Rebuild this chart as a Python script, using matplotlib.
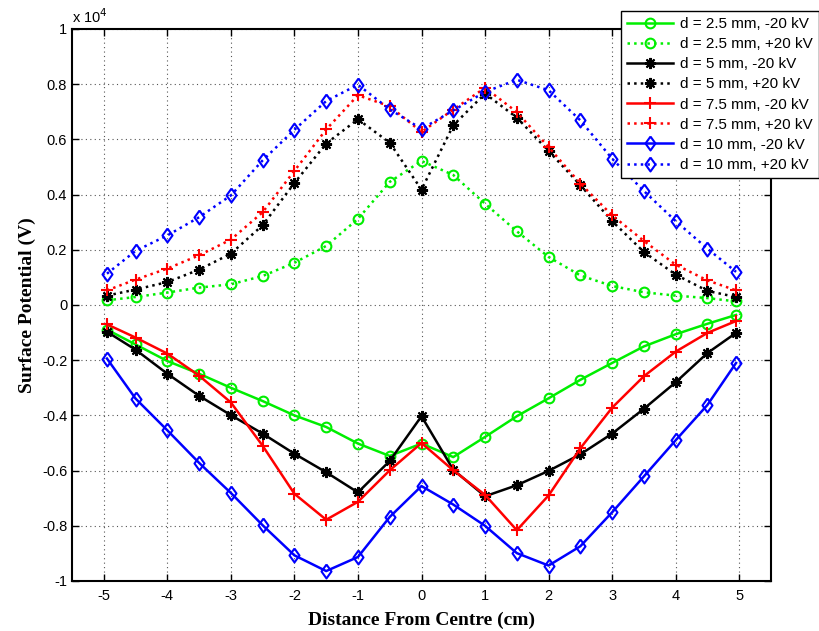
import matplotlib.pyplot as plt
import numpy as np
from matplotlib.ticker import FuncFormatter

# distance from centre (cm)
x = [-4.95, -4.5, -4, -3.5, -3, -2.5, -2, -1.5, -1, -0.5, 0,
     0.5, 1, 1.5, 2, 2.5, 3, 3.5, 4, 4.5, 4.95]

# surface potential, in units of 1e4 V
g_neg = [-0.089, -0.143, -0.203, -0.249, -0.300, -0.348, -0.400, -0.442, -0.502, -0.547, -0.502,
         -0.551, -0.478, -0.403, -0.338, -0.271, -0.210, -0.150, -0.106, -0.068, -0.036]
g_pos = [0.017, 0.029, 0.045, 0.063, 0.075, 0.105, 0.153, 0.214, 0.312, 0.446, 0.522,
         0.471, 0.367, 0.267, 0.174, 0.107, 0.069, 0.046, 0.034, 0.025, 0.013]
k_neg = [-0.097, -0.162, -0.249, -0.329, -0.399, -0.466, -0.539, -0.606, -0.679, -0.565, -0.403,
         -0.597, -0.693, -0.653, -0.601, -0.541, -0.466, -0.376, -0.280, -0.174, -0.101]
k_pos = [0.034, 0.056, 0.083, 0.128, 0.186, 0.289, 0.442, 0.585, 0.673, 0.588, 0.418,
         0.651, 0.766, 0.679, 0.558, 0.434, 0.304, 0.192, 0.110, 0.051, 0.029]
r_neg = [-0.070, -0.118, -0.176, -0.256, -0.353, -0.510, -0.684, -0.778, -0.713, -0.599, -0.500,
         -0.599, -0.688, -0.816, -0.690, -0.519, -0.372, -0.258, -0.169, -0.101, -0.058]
r_pos = [0.053, 0.092, 0.132, 0.180, 0.237, 0.336, 0.486, 0.636, 0.760, 0.720, 0.627,
         0.708, 0.787, 0.699, 0.572, 0.440, 0.325, 0.232, 0.146, 0.089, 0.053]
b_neg = [-0.194, -0.339, -0.454, -0.572, -0.681, -0.798, -0.907, -0.964, -0.913, -0.768, -0.656,
         -0.723, -0.800, -0.899, -0.944, -0.874, -0.751, -0.621, -0.490, -0.362, -0.210]
b_pos = [0.1135, 0.196, 0.252, 0.318, 0.397, 0.524, 0.635, 0.739, 0.798, 0.709, 0.638,
         0.705, 0.772, 0.816, 0.778, 0.669, 0.530, 0.413, 0.304, 0.204, 0.120]

labels = ['d = 2.5 mm, -20 kV', 'd = 2.5 mm, +20 kV',
          'd = 5 mm, -20 kV', 'd = 5 mm, +20 kV',
          'd = 7.5 mm, -20 kV', 'd = 7.5 mm, +20 kV',
          'd = 10 mm, -20 kV', 'd = 10 mm, +20 kV']

plt.rcParams['font.family'] = ['Liberation Sans', 'DejaVu Sans']
plt.rcParams['axes.unicode_minus'] = False

fig = plt.figure(figsize=(8.19, 6.31), dpi=100)
ax = fig.add_axes([72/819, 1-581/631, (771-72)/819, (581-29)/631])

# MATLAB-like diamond, a bit wider than matplotlib's thin diamond
diamond = [(0, 1), (0.72, 0), (0, -1), (-0.72, 0), (0, 1)]

scale = 1e4
series = [
    (g_neg, '#00ee00', '-', 'o', dict(markersize=7, mfc='none', mew=1.5)),
    (g_pos, '#00ee00', ':', 'o', dict(markersize=7, mfc='none', mew=1.5)),
    (k_neg, 'black', '-', (8, 2, 0), dict(markersize=8, mew=1.5)),
    (k_pos, 'black', ':', (8, 2, 0), dict(markersize=8, mew=1.5)),
    (r_neg, 'red', '-', '+', dict(markersize=9, mew=1.5)),
    (r_pos, 'red', ':', '+', dict(markersize=9, mew=1.5)),
    (b_neg, 'blue', '-', diamond, dict(markersize=10, mfc='none', mew=1.5)),
    (b_pos, 'blue', ':', diamond, dict(markersize=10, mfc='none', mew=1.5)),
]
for (vals, c, ls, mk, kw), lab in zip(series, labels):
    ax.plot(x, np.array(vals) * scale, color=c, linestyle=ls, marker=mk,
            linewidth=1.8, label=lab, **kw)

ax.set_xlim(-5.5, 5.5)
ax.set_ylim(-1e4, 1e4)
ax.set_xticks(np.arange(-5, 6, 1))
ax.set_yticks(np.arange(-1e4, 1.01e4, 0.2e4))


def yfmt(v, pos):
    s = '%g' % round(v / scale, 2)
    return '0' if s == '-0' else s


ax.yaxis.set_major_formatter(FuncFormatter(yfmt))
ax.tick_params(direction='in', top=True, right=True, labelsize=10.5, length=5, width=1)
ax.tick_params(axis='x', pad=6)
ax.grid(True, linestyle=(0, (1, 3)), color='#555555', linewidth=0.8)
for sp in ax.spines.values():
    sp.set_linewidth(1.5)

ax.set_xlabel('Distance From Centre (cm)', fontfamily='Liberation Serif',
              fontweight='bold', fontsize=14, labelpad=6)
ax.set_ylabel('Surface Potential (V)', fontfamily='Liberation Serif',
              fontweight='bold', fontsize=14)
ax.text(0.0, 1.006, r'x 10$^{4}$', transform=ax.transAxes, fontsize=10.5,
        ha='left', va='bottom')

leg = ax.legend(loc='upper right', bbox_to_anchor=(1.0, 1 - 11/631),
                bbox_transform=fig.transFigure, borderaxespad=0, fontsize=11,
                handlelength=3.0, fancybox=False, framealpha=1, edgecolor='black',
                labelspacing=0.4, borderpad=0.4, handletextpad=0.5)
leg.get_frame().set_linewidth(1.0)

fig.savefig('out.png', dpi=100)
